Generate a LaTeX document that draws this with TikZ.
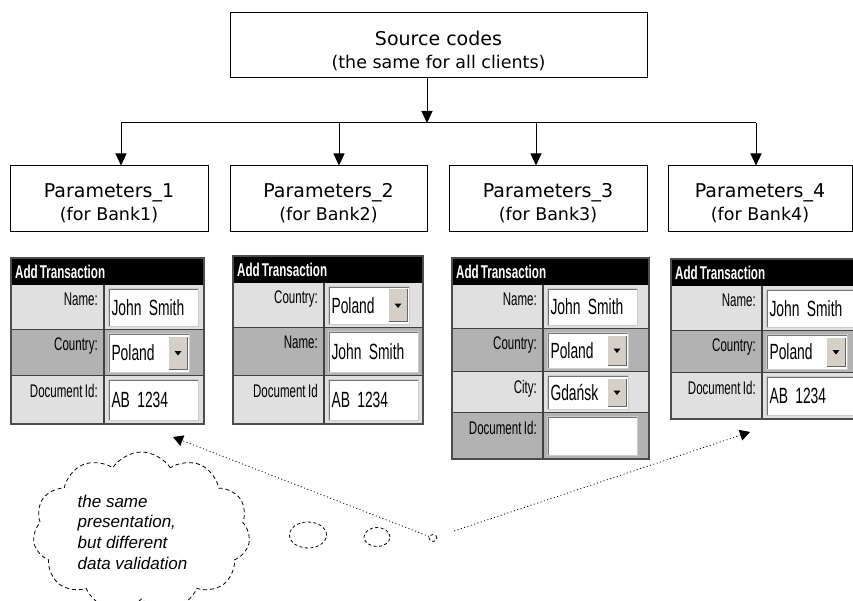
\documentclass[tikz,border=0pt]{standalone}
\usepackage{fontspec}
\usetikzlibrary{arrows.meta,shapes.symbols,shapes.geometric}
\newfontfamily\diagfont{DejaVu Sans}
\newfontfamily\formfont[FakeStretch=0.63,WordSpace=0.6]{Liberation Sans}
\newfontfamily\cloudfont{Liberation Sans}
\definecolor{btnface}{RGB}{212,208,200}

\newcommand{\formfield}[6]{%
  \fill[#3] (0,#1) rectangle (\fwid,#2);
  \draw[cellline] (0,#2) -- (\fwid,#2);
  \node[fieldlabel] (\fid-l\i) at (\fdiv-6,#1+8) {#4};
  \node[#6, minimum height={(#2-#1-7)*1pt}] (\fid-v\i) at (\fdiv+4,{(#1+#2)/2}) {#5};
}

\begin{document}
\begin{tikzpicture}[x=1pt, y=-1pt,
        every node/.style={font=\diagfont},
        box/.style={draw, line width=1pt, align=center, font=\diagfont\fontsize{17.5}{23}\selectfont},
        tree/.style={line width=1pt, -{Triangle[width=11pt,length=12pt]}},
        bus/.style={line width=1pt},
        rowa/.style={fill=black!12},
        rowb/.style={fill=black!30},
        cellline/.style={line width=1.2pt, black!75},
        frameline/.style={line width=1.4pt, black!70},
        formhead/.style={anchor=west, text=white, inner sep=0pt, font=\formfont\bfseries\fontsize{18.5}{18.5}\selectfont},
        fieldlabel/.style={anchor=north east, inner sep=0pt, text=black, font={\formfont\fontsize{18.3}{18.3}\selectfont\spaceskip 2.5pt\relax}},
        entry/.style={anchor=west, fill=white, draw=black!20, line width=1pt, text width=84pt, inner xsep=3pt, inner ysep=0pt, align=left,
          font={\formfont\fontsize{22}{22}\selectfont\spaceskip 3.5pt\relax},
          path picture={\draw[black!55, line width=3pt] (path picture bounding box.south west) |- (path picture bounding box.north east);}},
        combo/.style={entry, text width=75pt,
          path picture={
            \draw[black!55, line width=3pt] (path picture bounding box.south west) |- (path picture bounding box.north east);
            \fill[btnface] ([xshift=-21pt,yshift=3pt]path picture bounding box.south east) rectangle ([xshift=-2pt,yshift=-3pt]path picture bounding box.north east);
            \draw[black!60, line width=1pt] ([xshift=-21pt,yshift=3pt]path picture bounding box.south east) -- ([xshift=-2pt,yshift=3pt]path picture bounding box.south east) -- ([xshift=-2pt,yshift=-3pt]path picture bounding box.north east);
            \fill[black] ([xshift=-15pt,yshift=2pt]path picture bounding box.east) -- ++(7pt,0pt) -- ++(-3.5pt,-4.5pt) -- cycle;}},
        bubble/.style={ellipse, draw, dash pattern=on 3pt off 2.5pt, line width=.8pt, inner sep=0pt},
        hint/.style={dash pattern=on 1pt off 2.5pt, line width=.8pt, -{Triangle[width=11pt,length=10pt]}}
      ]
        \useasboundingbox (0,0) rectangle (853,601);

        \node[box, minimum width=417pt, minimum height=65pt] (src) at (438.5,45.5)
          {\rule{0pt}{25pt}{\fontsize{19}{23}\selectfont Source codes}\\(the same for all clients)};

        \node[box, minimum width=198pt, minimum height=66pt] (p1) at (109,199)
          {\rule{0pt}{22pt}{\fontsize{19}{24}\selectfont Parameters\_1}\\(for Bank1)};
        \node[box, minimum width=197pt, minimum height=66pt] (p2) at (328.5,199)
          {\rule{0pt}{22pt}{\fontsize{19}{24}\selectfont Parameters\_2}\\(for Bank2)};
        \node[box, minimum width=198pt, minimum height=66pt] (p3) at (548,199)
          {\rule{0pt}{22pt}{\fontsize{19}{24}\selectfont Parameters\_3}\\(for Bank3)};
        \node[box, minimum width=184pt, minimum height=66pt] (p4) at (760,199)
          {\rule{0pt}{22pt}{\fontsize{19}{24}\selectfont Parameters\_4}\\(for Bank4)};

        \coordinate (j0) at (427,123);
        \coordinate (j1) at (121,123);
        \coordinate (j2) at (339,123);
        \coordinate (j3) at (536,123);
        \coordinate (j4) at (756,123);
        \draw[tree] (src.south -| j0) -- (j0);
        \draw[bus] (j1) -- (j4);
        \foreach \k in {1,...,4}
          \draw[tree] (j\k) -- (j\k |- p\k.north);

        % bank 1
        \begin{scope}[shift={(11,258)}]
          \def\fid{f1}\def\fwid{193}\def\fdiv{93}\def\fbot{166}
          \fill (0,0) rectangle (\fwid,27);
          \node[formhead] (\fid) at (4,13.5) {Add Transaction};
          \foreach \i/\ya/\yb/\shade/\lab/\val/\kind in {
              1/27/72/rowa/Name:/John Smith/entry,
              2/72/118/rowb/Country:/Poland/combo,
              3/118/166/rowa/Document Id:/AB 1234/entry}
            {\formfield{\ya}{\yb}{\shade}{\lab}{\val}{\kind}}
          \draw[cellline] (\fdiv,27) -- (\fdiv,\fbot);
          \draw[frameline] (0,0) rectangle (\fwid,\fbot);
        \end{scope}

        % bank 2
        \begin{scope}[shift={(233,256)}]
          \def\fid{f2}\def\fwid{190}\def\fdiv{91}\def\fbot{168}
          \fill (0,0) rectangle (\fwid,27);
          \node[formhead] (\fid) at (4,13.5) {Add Transaction};
          \foreach \i/\ya/\yb/\shade/\lab/\val/\kind in {
              1/27/72/rowa/Country:/Poland/combo,
              2/72/120/rowb/Name:/John Smith/entry,
              3/120/168/rowa/Document Id/AB 1234/entry}
            {\formfield{\ya}{\yb}{\shade}{\lab}{\val}{\kind}}
          \draw[cellline] (\fdiv,27) -- (\fdiv,\fbot);
          \draw[frameline] (0,0) rectangle (\fwid,\fbot);
        \end{scope}

        % bank 3
        \begin{scope}[shift={(452,258)}]
          \def\fid{f3}\def\fwid{197}\def\fdiv{91}\def\fbot{201}
          \fill (0,0) rectangle (\fwid,27);
          \node[formhead] (\fid) at (4,13.5) {Add Transaction};
          \foreach \i/\ya/\yb/\shade/\lab/\val/\kind in {
              1/27/71/rowa/Name:/John Smith/entry,
              2/71/114/rowb/Country:/Poland/combo,
              3/114/155/rowa/City:/Gdańsk/combo,
              4/155/201/rowb/Document Id://entry}
            {\formfield{\ya}{\yb}{\shade}{\lab}{\val}{\kind}}
          \draw[cellline] (\fdiv,27) -- (\fdiv,\fbot);
          \draw[frameline] (0,0) rectangle (\fwid,\fbot);
        \end{scope}

        % bank 4
        \begin{scope}[shift={(671,259)}]
          \def\fid{f4}\def\fwid{200}\def\fdiv{91}\def\fbot{160}
          \fill (0,0) rectangle (\fwid,27);
          \node[formhead] (\fid) at (4,13.5) {Add Transaction};
          \foreach \i/\ya/\yb/\shade/\lab/\val/\kind in {
              1/27/72/rowa/Name:/John Smith/entry,
              2/72/114/rowb/Country:/Poland/combo,
              3/114/160/rowa/Document Id:/AB 1234/entry}
            {\formfield{\ya}{\yb}{\shade}{\lab}{\val}{\kind}}
          \draw[cellline] (\fdiv,27) -- (\fdiv,\fbot);
          \draw[frameline] (0,0) rectangle (\fwid,\fbot);
        \end{scope}

        \node[cloud, draw, dash pattern=on 4pt off 3pt, line width=.8pt, cloud puffs=11, cloud puff arc=115, aspect=1.35,
              minimum width=217pt, minimum height=160pt, align=left, inner sep=0pt,
              font=\cloudfont\itshape\fontsize{17}{20.7}\selectfont] (note) at (141.5,532)
          {the same\\presentation,\\but different\\data validation\hspace*{18pt}};
        \node[bubble, minimum width=37pt, minimum height=26pt] (t1) at (308,535) {};
        \node[bubble, minimum width=26pt, minimum height=19pt] (t2) at (377,537) {};
        \node[bubble, minimum width=8pt, minimum height=7pt] (t3) at (433,538) {};

        \coordinate (a1) at (173,437);
        \coordinate (a4) at (750,432);
        \draw[hint] (t3) -- (a1);
        \draw[hint, shorten <=18pt] (t3) -- (a4);
      \end{tikzpicture}
\end{document}
